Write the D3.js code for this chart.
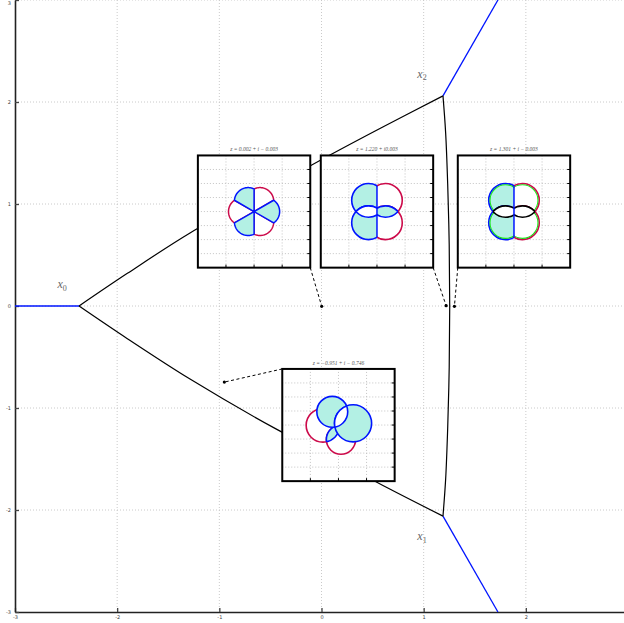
<!DOCTYPE html>
<html>
<head>
<meta charset="utf-8">
<script src="https://cdn.jsdelivr.net/npm/d3@7"></script>
<style>
body{margin:0;background:#fff;}
svg{display:block;}
</style>
</head>
<body>
<svg id="chart" width="624" height="623"></svg>
<script>
// ---------- data ----------
const xTicks = [-3, -2, -1, 0, 1, 2];
const yTicks = [-3, -2, -1, 0, 1, 2, 3];

// branch points x0, x1, x2
const nodeNames = ['0', '1', '2'];
const nodeX = [-2.373, 1.189, 1.189];
const nodeY = [0, -2.06, 2.06];

// black curves
const upperBranch = [[-2.373, 0], [-1.9, 0.32], [-1.287, 0.716], [-0.6, 1.10], [0.083, 1.48], [0.6, 1.755], [1.189, 2.06]];
const lowerBranch = [[-2.373, 0], [-1.9, -0.32], [-1.287, -0.716], [-0.455, -1.2], [0.083, -1.48], [0.654, -1.787], [1.189, -2.06]];
const rightBranch = [[1.189, 2.06], [1.215, 1.7], [1.235, 1.2], [1.25, 0.6], [1.255, 0], [1.25, -0.6], [1.235, -1.2], [1.215, -1.7], [1.189, -2.06]];
// blue rays
const rayLeft = [[-3, 0], [-2.373, 0]];
const rayUp = [[1.189, 2.06], [1.727, 3]];
const rayDown = [[1.189, -2.06], [1.727, -3]];

// sample points shown in insets
const insetRe = [0.002, 1.220, 1.301, -0.951];
const insetIm = [-0.003, 0.003, -0.003, -0.746];
const insetTitles = ['z = 0.002 + i − 0.003', 'z = 1.220 + i0.003', 'z = 1.301 + i − 0.003', 'z = −0.951 + i − 0.746'];

// inset 0 : six petals
const petalAngles = [0, 60, 120, 180, 240, 300];
const petalKinds = ['in', 'out', 'in', 'out', 'in', 'out'];
const petalOffset = 0.42, petalRadius = 0.49;

// insets 1,2 : four lobes split by the imaginary axis
const lobeDiscs = [
  {cx: -0.3, cy: 0.4, r: 0.6, kind: 'in', side: 'L'},
  {cx: -0.3, cy: -0.4, r: 0.6, kind: 'in', side: 'L'},
  {cx: 0.3, cy: 0.4, r: 0.6, kind: 'out', side: 'R'},
  {cx: 0.3, cy: -0.4, r: 0.6, kind: 'out', side: 'R'}
];
const lobeLenses1 = [[0, 1, '#fff'], [2, 3, 'cyan']];
const lobeLenses2 = [[0, 1, '#fff'], [2, 3, '#fff']];

// inset 3 : four overlapping discs
const mixDiscs = [
  {cx: -0.55, cy: -0.01, r: 0.6, kind: 'out', side: 'N'},
  {cx: 0.09, cy: -0.52, r: 0.52, kind: 'out', side: 'N'},
  {cx: -0.22, cy: 0.47, r: 0.55, kind: 'in', side: 'N'},
  {cx: 0.52, cy: 0.06, r: 0.66, kind: 'in', side: 'N'}
];
const mixLenses = [[0, 1, 'cyan'], [2, 3, '#fff']];

// ---------- layout ----------
const CYAN = '#b3f0e4', BLUE = '#0014ff', RED = '#cc0a4a', GREEN = '#19e619';
const kindStyle = {in: {fill: CYAN, stroke: BLUE}, out: {fill: '#fff', stroke: RED}};
const fillOf = f => f === 'cyan' ? CYAN : f;

const svg = d3.select('#chart');
const x = d3.scaleLinear([-3, 3], [15, 628]);
const y = d3.scaleLinear([-3, 3], [612, 0]);
const line = d3.line().x(d => x(d[0])).y(d => y(d[1]));

// grid
const grid = svg.append('g').attr('stroke', '#c4c4c4').attr('stroke-width', 0.9).attr('stroke-dasharray', '1,2');
grid.selectAll('.gx').data(xTicks.filter(d => d > -3)).join('line')
  .attr('x1', d => x(d)).attr('x2', d => x(d)).attr('y1', y(3)).attr('y2', y(-3));
grid.selectAll('.gy').data(yTicks.filter(d => d > -3)).join('line')
  .attr('y1', d => y(d)).attr('y2', d => y(d)).attr('x1', x(-3)).attr('x2', x(3));

// axes
const xAxisG = svg.append('g').attr('transform', `translate(0,${y(-3)})`)
  .call(d3.axisBottom(x).tickValues(xTicks).tickSize(-4).tickSizeOuter(0).tickFormat(d => String(d)));
const yAxisG = svg.append('g').attr('transform', `translate(${x(-3)},0)`)
  .call(d3.axisLeft(y).tickValues(yTicks).tickSize(-4).tickSizeOuter(0).tickFormat(d => String(d)));
[xAxisG, yAxisG].forEach(g => {
  g.attr('font-size', 5).attr('font-family', 'DejaVu Sans');
  g.select('.domain').attr('stroke', '#222').attr('stroke-width', 1.6);
  g.selectAll('.tick line').attr('stroke', '#444').attr('stroke-width', 1.3);
  g.selectAll('.tick text').attr('fill', '#444');
});
yAxisG.selectAll('.tick text').attr('x', -4).attr('dy', d => d === 3 ? '0.9em' : '0.32em');

// curves
[rayLeft, rayUp, rayDown].forEach(r => {
  svg.append('path').attr('d', line(r)).attr('fill', 'none').attr('stroke', BLUE).attr('stroke-width', 1.3);
});
const smooth = d3.line().x(d => x(d[0])).y(d => y(d[1])).curve(d3.curveCatmullRom);
[upperBranch, lowerBranch, rightBranch].forEach(b => {
  svg.append('path').attr('d', smooth(b)).attr('fill', 'none').attr('stroke', '#000').attr('stroke-width', 1.2);
});

// node labels
const labelOffset = [[-17, -18], [-21, 24], [-21, -18]];
nodeNames.forEach((n, i) => {
  const t = svg.append('text')
    .attr('x', x(nodeX[i]) + labelOffset[i][0]).attr('y', y(nodeY[i]) + labelOffset[i][1])
    .attr('text-anchor', 'middle').attr('font-family', 'Liberation Serif').attr('font-style', 'italic')
    .attr('font-size', 12).attr('fill', '#666');
  t.append('tspan').text('x');
  t.append('tspan').text(n).attr('font-size', 8).attr('font-style', 'normal').attr('dy', 2.5);
});

// insets
const insetCX = [-0.66, 0.543, 1.884, 0.166];
const insetCY = [0.926, 0.926, 0.926, -1.167];
const insetSize = 1.1;
const insetCorner = ['br', 'br', 'bl', 'tl'];
const innerGX = [-1, 0, 1];
const innerGY = [-1.5, -1, -0.5, 0, 0.5, 1, 1.5];

function petalPoints(aDeg, d, rc) {
  const a = aDeg * Math.PI / 180, h = Math.PI / 6;
  const cx = d * Math.cos(a), cy = d * Math.sin(a);
  const t = d * Math.cos(h) + Math.sqrt(rc * rc - d * d * Math.sin(h) ** 2);
  const p1 = [t * Math.cos(a - h), t * Math.sin(a - h)], p2 = [t * Math.cos(a + h), t * Math.sin(a + h)];
  let f1 = Math.atan2(p1[1] - cy, p1[0] - cx), f2 = Math.atan2(p2[1] - cy, p2[0] - cx);
  if (f2 < f1) f2 += 2 * Math.PI;
  const pts = [[0, 0]];
  for (let k = 0; k <= 40; k++) {
    const f = f1 + (f2 - f1) * k / 40;
    pts.push([cx + rc * Math.cos(f), cy + rc * Math.sin(f)]);
  }
  return pts;
}

function drawDiscs(g, ix, iy, discs, lenses, uid, opts) {
  const rpx = r => ix(r) - ix(0);
  const defs = g.append('defs');
  discs.forEach((d, k) => {
    defs.append('clipPath').attr('id', `${uid}-d${k}`).append('circle')
      .attr('cx', ix(d.cx)).attr('cy', iy(d.cy)).attr('r', rpx(d.r));
  });
  defs.append('clipPath').attr('id', `${uid}-L`).append('rect')
    .attr('x', ix(-2)).attr('y', iy(2)).attr('width', ix(0) - ix(-2)).attr('height', iy(-2) - iy(2));
  defs.append('clipPath').attr('id', `${uid}-R`).append('rect')
    .attr('x', ix(0)).attr('y', iy(2)).attr('width', ix(2) - ix(0)).attr('height', iy(-2) - iy(2));

  const sides = Array.from(new Set(discs.map(d => d.side)));
  sides.forEach(s => {
    const sg = g.append('g');
    if (s !== 'N') sg.attr('clip-path', `url(#${uid}-${s})`);
    ['out', 'in'].forEach(kind => {
      discs.forEach(d => {
        if (d.side !== s || d.kind !== kind) return;
        sg.append('circle').attr('cx', ix(d.cx)).attr('cy', iy(d.cy)).attr('r', rpx(d.r))
          .attr('fill', kindStyle[kind].fill).attr('stroke', kindStyle[kind].stroke).attr('stroke-width', 1.6);
      });
      if (opts.rim) {
        discs.forEach(d => {
          if (d.side !== s || d.kind !== kind) return;
          sg.append('circle').attr('cx', ix(d.cx)).attr('cy', iy(d.cy)).attr('r', rpx(d.r) - 1.3)
            .attr('fill', 'none').attr('stroke', GREEN).attr('stroke-width', 1.1);
        });
      }
      lenses.forEach(([a, b, f]) => {
        if (discs[a].side !== s || discs[a].kind !== kind) return;
        const da = discs[a], db = discs[b];
        sg.append('g').attr('clip-path', `url(#${uid}-d${b})`).append('circle')
          .attr('cx', ix(da.cx)).attr('cy', iy(da.cy)).attr('r', rpx(da.r))
          .attr('fill', fillOf(f)).attr('stroke', opts.lensStroke).attr('stroke-width', 1.6);
        sg.append('g').attr('clip-path', `url(#${uid}-d${a})`).append('circle')
          .attr('cx', ix(db.cx)).attr('cy', iy(db.cy)).attr('r', rpx(db.r))
          .attr('fill', 'none').attr('stroke', opts.lensStroke).attr('stroke-width', 1.6);
      });
    });
  });
  if (sides.includes('L')) {
    const d0 = discs[0];
    const yt = d0.cy + Math.sqrt(d0.r * d0.r - d0.cx * d0.cx);
    g.append('line').attr('x1', ix(0)).attr('x2', ix(0)).attr('y1', iy(yt)).attr('y2', iy(-yt))
      .attr('stroke', BLUE).attr('stroke-width', 1.5);
  }
}

insetTitles.forEach((title, i) => {
  const x0 = x(insetCX[i] - insetSize / 2), x1 = x(insetCX[i] + insetSize / 2);
  const y0 = y(insetCY[i] + insetSize / 2), y1 = y(insetCY[i] - insetSize / 2);
  const bw = x1 - x0, bh = y1 - y0;
  const ix = d3.scaleLinear([-2, 2], [0, bw]);
  const iy = d3.scaleLinear([-2, 2], [bh, 0]);

  // connector
  const c = insetCorner[i];
  const cx = c.includes('l') ? x0 : x1, cy = c.includes('t') ? y0 : y1;
  svg.append('line').attr('x1', cx).attr('y1', cy).attr('x2', x(insetRe[i])).attr('y2', y(insetIm[i]))
    .attr('stroke', '#000').attr('stroke-width', 1).attr('stroke-dasharray', '3,2.5');

  const g = svg.append('g').attr('transform', `translate(${x0},${y0})`);
  g.append('rect').attr('width', bw).attr('height', bh).attr('fill', '#fff');
  const ig = g.append('g').attr('stroke', '#bdbdbd').attr('stroke-width', 0.9).attr('stroke-dasharray', '1,2');
  ig.selectAll('.vx').data(innerGX).join('line').attr('x1', d => ix(d)).attr('x2', d => ix(d)).attr('y1', 0).attr('y2', bh);
  ig.selectAll('.vy').data(innerGY).join('line').attr('y1', d => iy(d)).attr('y2', d => iy(d)).attr('x1', 0).attr('x2', bw);

  if (i === 0) {
    ['out', 'in'].forEach(kind => {
      petalAngles.forEach((a, k) => {
        if (petalKinds[k] !== kind) return;
        g.append('path')
          .attr('d', d3.line().x(d => ix(d[0])).y(d => iy(d[1]))(petalPoints(a, petalOffset, petalRadius)) + 'Z')
          .attr('fill', kindStyle[kind].fill).attr('stroke', kindStyle[kind].stroke)
          .attr('stroke-width', 1.5).attr('stroke-linejoin', 'round');
      });
    });
  } else if (i === 1) {
    drawDiscs(g, ix, iy, lobeDiscs, lobeLenses1, 'ins1', {lensStroke: BLUE, rim: false});
  } else if (i === 2) {
    drawDiscs(g, ix, iy, lobeDiscs, lobeLenses2, 'ins2', {lensStroke: '#000', rim: true});
  } else {
    drawDiscs(g, ix, iy, mixDiscs, mixLenses, 'ins3', {lensStroke: BLUE, rim: false});
  }

  // ticks on right and bottom edges
  const tk = g.append('g').attr('stroke', '#000').attr('stroke-width', 1);
  tk.selectAll('.ty').data(innerGY).join('line').attr('x1', bw - 3).attr('x2', bw).attr('y1', d => iy(d)).attr('y2', d => iy(d));
  tk.selectAll('.tx').data(innerGX).join('line').attr('y1', bh - 3).attr('y2', bh).attr('x1', d => ix(d)).attr('x2', d => ix(d));
  g.append('rect').attr('width', bw).attr('height', bh).attr('fill', 'none').attr('stroke', '#000').attr('stroke-width', 2);

  g.append('text').attr('x', bw / 2).attr('y', -4).attr('text-anchor', 'middle')
    .attr('font-family', 'Liberation Serif').attr('font-style', 'italic').attr('font-size', 5.5)
    .attr('fill', '#555').text(title);
});

// sample dots
svg.append('g').selectAll('circle').data(insetRe).join('circle')
  .attr('cx', d => x(d)).attr('cy', (d, i) => y(insetIm[i])).attr('r', 1.6).attr('fill', '#000');
</script>
</body>
</html>
